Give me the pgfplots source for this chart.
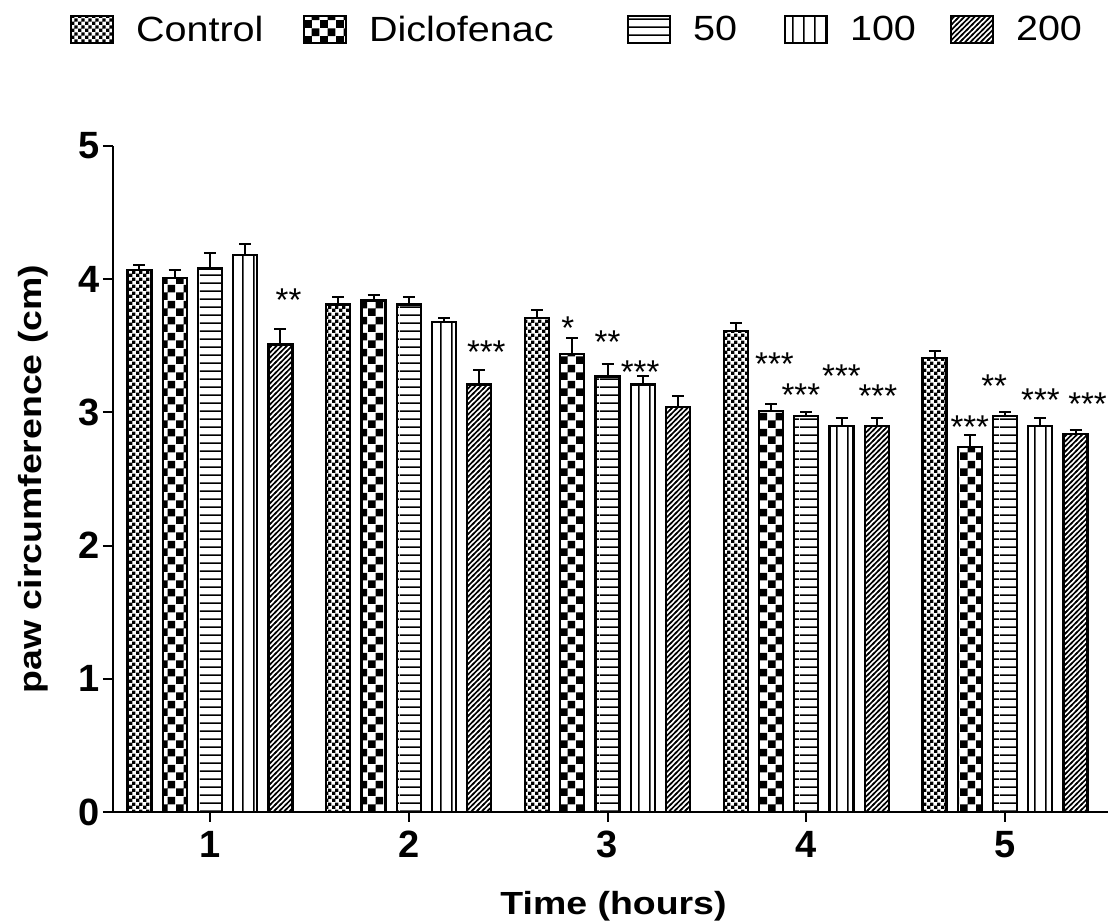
\documentclass[border=0pt]{standalone}
\usepackage{fontspec}
\setmainfont{Liberation Sans}
\usepackage{graphicx}
\usepackage{pgfplots}
\pgfplotsset{compat=1.18}
\usetikzlibrary{patterns}
\pgfdeclarepatternformonly{finechecker}{\pgfpointorigin}{\pgfqpoint{3.6pt}{3.6pt}}{\pgfqpoint{3.6pt}{3.6pt}}{%
  \pgfpathrectangle{\pgfpointorigin}{\pgfqpoint{1.85pt}{1.85pt}}%
  \pgfpathrectangle{\pgfqpoint{1.8pt}{1.8pt}}{\pgfqpoint{1.8pt}{1.8pt}}%
  \pgfusepath{fill}}
\pgfdeclarepatternformonly{bigchecker}{\pgfpointorigin}{\pgfqpoint{8pt}{8pt}}{\pgfqpoint{8pt}{8pt}}{%
  \pgfpathrectangle{\pgfpointorigin}{\pgfqpoint{4.05pt}{4.05pt}}%
  \pgfpathrectangle{\pgfqpoint{4pt}{4pt}}{\pgfqpoint{4pt}{4pt}}%
  \pgfusepath{fill}}
\pgfdeclarepatternformonly{hlin}{\pgfpointorigin}{\pgfqpoint{100pt}{4pt}}{\pgfqpoint{100pt}{4pt}}{%
  \pgfpathrectangle{\pgfpointorigin}{\pgfqpoint{100pt}{0.9pt}}%
  \pgfusepath{fill}}
\pgfdeclarepatternformonly{vlin}{\pgfpointorigin}{\pgfqpoint{5.5pt}{100pt}}{\pgfqpoint{5.5pt}{100pt}}{%
  \pgfpathrectangle{\pgfpointorigin}{\pgfqpoint{0.9pt}{100pt}}%
  \pgfusepath{fill}}
\pgfdeclarepatternformonly{nel}{\pgfqpoint{-1pt}{-1pt}}{\pgfqpoint{3.6pt}{3.6pt}}{\pgfqpoint{2.6pt}{2.6pt}}{%
  \pgfsetlinewidth{0.8pt}%
  \pgfpathmoveto{\pgfqpoint{-0.5pt}{-0.5pt}}%
  \pgfpathlineto{\pgfqpoint{3.1pt}{3.1pt}}%
  \pgfusepath{stroke}}
\pgfplotsset{
  mybar/.style={draw=black, line width=1.1pt, pattern color=black,
    legend image code/.code={%
      \draw[##1, line width=1pt] (0pt,-6.75pt) rectangle (21pt,6.75pt);
      \path[draw=none, fill=none] (0pt,0pt) -- (32.5pt,0pt);},
    error bars/y dir=plus, error bars/y explicit,
    error bars/error bar style={line width=1pt, black, solid},
    error bars/error mark options={rotate=90, line width=1pt, black, mark size=3pt, solid}},
}
\newcommand{\legtxt}[1]{\scalebox{1.13}[1]{#1}}
\begin{document}
\begin{tikzpicture}
\begin{axis}[
  ybar, bar width=12pt,
  scale only axis, width=497.5pt, height=333pt,
  xmin=0.512, xmax=5.518, ymin=0, ymax=5,
  axis x line*=bottom, axis y line*=left,
  axis line style={line width=1pt, black},
  xtick={1,2,3,4,5}, ytick={0,1,2,3,4,5},
  tick align=outside, major tick length=5pt,
  tick style={line width=1pt, black},
  /pgf/number format/assume math mode=true,
  ticklabel style={font=\bfseries\fontsize{19}{19}\selectfont},
  xticklabel style={inner sep=4.5pt},
  yticklabel style={inner sep=1.5pt},
  xlabel={\scalebox{1.17}[1]{Time (hours)}}, ylabel={\scalebox{1.17}[1]{paw circumference (cm)}},
  every axis x label/.style={at={(axis description cs:0.503,-0.1411)}, anchor=center, font=\bfseries\fontsize{16}{19}\selectfont},
  every axis y label/.style={at={(axis description cs:-0.0804,0.5)}, anchor=center, rotate=90, font=\bfseries\fontsize{16}{19}\selectfont},
  legend columns=5,
  legend style={at={(axis description cs:-0.0432,1.1742)}, anchor=west, draw=none, fill=none,
    inner sep=0pt, outer sep=0pt, font=\fontsize{17.5}{17.5}\selectfont,
    /tikz/every even column/.style={column sep=0pt},
    /tikz/every odd column/.style={column sep=0pt},
    nodes={inner sep=0pt, anchor=west}},
]
\addplot[mybar, bar shift=-35.25pt, pattern=finechecker] coordinates {
  (1,4.07) +- (0,0.035) (2,3.81) +- (0,0.06) (3,3.71) +- (0,0.06) (4,3.61) +- (0,0.06) (5,3.41) +- (0,0.05)};
\addlegendentry{\makebox[83.5pt][l]{\legtxt{Control}}}
\addplot[mybar, bar shift=-17.625pt, pattern=bigchecker] coordinates {
  (1,4.01) +- (0,0.06) (2,3.84) +- (0,0.04) (3,3.44) +- (0,0.12) (4,3.01) +- (0,0.055) (5,2.74) +- (0,0.09)};
\addlegendentry{\makebox[129pt][l]{\legtxt{Diclofenac}}}
\addplot[mybar, bar shift=0pt, pattern=hlin] coordinates {
  (1,4.08) +- (0,0.12) (2,3.81) +- (0,0.06) (3,3.27) +- (0,0.09) (4,2.97) +- (0,0.035) (5,2.97) +- (0,0.03)};
\addlegendentry{\makebox[45.5pt][l]{\legtxt{50}}}
\addplot[mybar, bar shift=17.625pt, pattern=vlin] coordinates {
  (1,4.18) +- (0,0.085) (2,3.68) +- (0,0.03) (3,3.21) +- (0,0.06) (4,2.90) +- (0,0.06) (5,2.90) +- (0,0.06)};
\addlegendentry{\makebox[50pt][l]{\legtxt{100}}}
\addplot[mybar, bar shift=35.25pt, pattern=nel] coordinates {
  (1,3.51) +- (0,0.115) (2,3.21) +- (0,0.11) (3,3.04) +- (0,0.08) (4,2.90) +- (0,0.06) (5,2.84) +- (0,0.03)};
\addlegendentry{\legtxt{200}}
\addplot[sharp plot, draw=none, mark=none, bar shift=0pt, forget plot, point meta=explicit symbolic, nodes near coords,
  nodes near coords style={anchor=center, inner sep=0pt, font=\fontsize{16.5}{16.5}\selectfont, text=black}]
  coordinates {
  (1.395,3.84) [**]
  (2.39,3.45) [***]
  (2.80,3.63) [*]
  (3.0,3.53) [**]
  (3.164,3.30) [***]
  (3.84,3.36) [***]
  (3.973,3.13) [***]
  (4.177,3.27) [***]
  (4.36,3.12) [***]
  (4.8226,2.89) [***]
  (4.945,3.20) [**]
  (5.178,3.09) [***]
  (5.415,3.06) [***]
};
\end{axis}
\pgfresetboundingbox
\path (-56.5pt,-56pt) rectangle (497.5pt,406pt);
\end{tikzpicture}
\end{document}
